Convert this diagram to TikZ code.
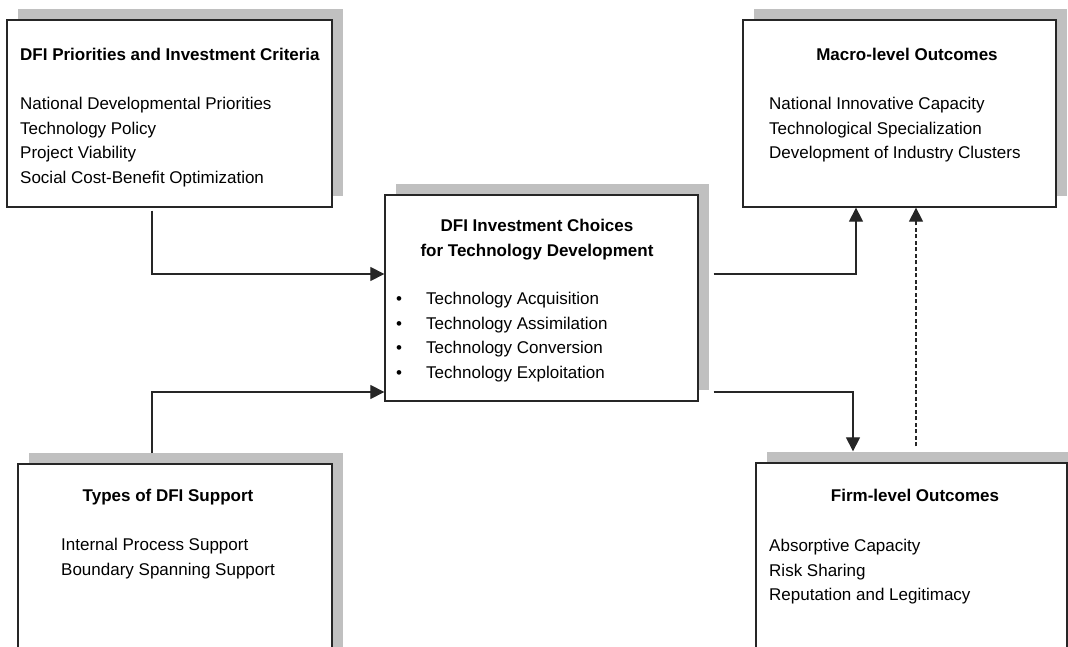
\documentclass[tikz,border=0pt]{standalone}
\usepackage{fontspec}
\setmainfont{Liberation Sans}
\usetikzlibrary{arrows.meta, shadows}
\definecolor{shadowgray}{RGB}{192,192,192}
\newcommand{\txtsize}{\fontsize{17}{24.7}\selectfont}

\begin{document}
\begin{tikzpicture}[x=1pt, y=1pt,
  panel/.style={draw=black!85, line width=1.3pt, fill=white, inner sep=0pt,
                drop shadow={shadow xshift=11pt, shadow yshift=11pt,
                             fill=shadowgray, opacity=1}},
  head/.style={font=\txtsize\bfseries, inner sep=0pt},
  body/.style={font=\txtsize, align=left, inner sep=0pt, anchor=north west},
  link/.style={line width=1.2pt, draw=black!85,
               -{Triangle[length=14pt, width=14pt]}}
]
  \clip (0,0) rectangle (1068,646);

  % ── boxes ──
  \node[panel, minimum width=325pt, minimum height=187pt] (prio) at (169.5,532.5) {};
  \node[panel, minimum width=313pt, minimum height=187pt] (macro) at (899.5,532.5) {};
  \node[panel, minimum width=313pt, minimum height=206pt] (choice) at (541.5,348) {};
  \node[panel, minimum width=314pt, minimum height=236pt] (sup) at (175,64) {};
  \node[panel, minimum width=311pt, minimum height=236pt] (firm) at (911.5,65) {};

  % ── DFI priorities ──
  \node[head, anchor=base west] (prio-t) at (20,585) {DFI Priorities and Investment Criteria};
  \node[body] (prio-b) at (20,549)
    {National Developmental Priorities\\Technology Policy\\Project Viability\\Social Cost-Benefit Optimization};

  % ── macro level ──
  \node[head, anchor=base] (macro-t) at (907,585) {Macro-level Outcomes};
  \node[body] (macro-b) at (769,549)
    {National Innovative Capacity\\Technological Specialization\\Development of Industry Clusters};

  % ── investment choices ──
  \node[head, align=center, anchor=north] (choice-t) at (537,427)
    {DFI Investment Choices\\for Technology Development};
  \node[body] (choice-b) at (396,354)
    {\makebox[30pt][l]{\textbullet}Technology Acquisition\\
     \makebox[30pt][l]{\textbullet}Technology Assimilation\\
     \makebox[30pt][l]{\textbullet}Technology Conversion\\
     \makebox[30pt][l]{\textbullet}Technology Exploitation};

  % ── types of support ──
  \node[head, anchor=base] (sup-t) at (168,145) {Types of DFI Support};
  \node[body] (sup-b) at (61,108) {Internal Process Support\\Boundary Spanning Support};

  % ── firm level ──
  \node[head, anchor=base] (firm-t) at (915,145) {Firm-level Outcomes};
  \node[body] (firm-b) at (769,107)
    {Absorptive Capacity\\Risk Sharing\\Reputation and Legitimacy};

  % ── links ──
  \draw[link] ([xshift=-17.5pt, yshift=-3pt]prio.south) |- ([yshift=24pt]choice.west);
  \draw[link] ([xshift=-23pt, yshift=10pt]sup.north) |- ([yshift=-94pt]choice.west);
  \draw[link] ([xshift=15pt, yshift=24pt]choice.east) -| ([xshift=-43.5pt]macro.south);
  \draw[link] ([xshift=15pt, yshift=-94pt]choice.east) -| ([xshift=-58.5pt, yshift=11pt]firm.north);
  \draw[link, dash pattern=on 4pt off 2.5pt]
    ([xshift=4.5pt, yshift=16pt]firm.north) -- ([xshift=16.5pt]macro.south);
\end{tikzpicture}
\end{document}
